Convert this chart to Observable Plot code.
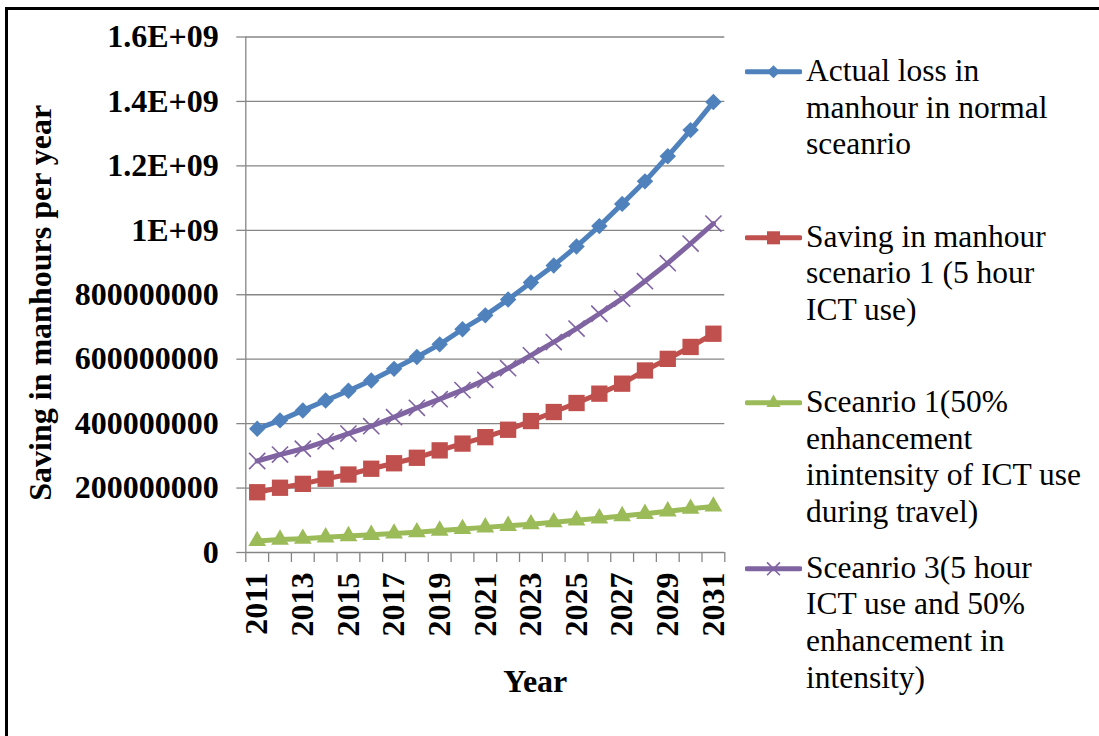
<!DOCTYPE html>
<html>
<head>
<meta charset="utf-8">
<script src="https://cdn.jsdelivr.net/npm/d3@7"></script>
<script src="https://cdn.jsdelivr.net/npm/@observablehq/plot@0.6"></script>
<style>
  html, body { margin: 0; padding: 0; background: #fff; overflow: hidden; }
  body { width: 1099px; height: 736px; position: relative; font-family: "Liberation Serif", "Times New Roman", serif; }
  #frame { position: absolute; left: 5px; top: 7px; width: 2000px; height: 2000px; border: 3px solid #000; box-sizing: border-box; }
  #chart { position: absolute; left: 0; top: 0; }
  #legend { position: absolute; left: 745px; top: 53px; }
  .entry { height: 165.5px; display: flex; align-items: flex-start; }
  .entry svg { flex: none; margin-top: 0; }
  .entry .txt { margin-left: 4px; font-size: 31.5px; line-height: 36.7px; white-space: nowrap; color: #000; }
</style>
</head>
<body>
<div id="frame"></div>
<div id="chart"></div>
<div id="legend"></div>
<script>
// ---- data ----
const years = [2011, 2012, 2013, 2014, 2015, 2016, 2017, 2018, 2019, 2020, 2021,
               2022, 2023, 2024, 2025, 2026, 2027, 2028, 2029, 2030, 2031];
const actualLoss = [384e6, 410e6, 441e6, 472e6, 502e6, 534e6, 570e6, 607e6, 646e6, 693e6, 736e6,
                    785e6, 838e6, 891e6, 950e6, 1013e6, 1082e6, 1152e6, 1230e6, 1311e6, 1398e6];
const saving5h = [187e6, 201e6, 213e6, 229e6, 242e6, 260e6, 277e6, 294e6, 317e6, 338e6, 358e6,
                  381e6, 408e6, 436e6, 464e6, 493e6, 524e6, 565e6, 601e6, 638e6, 679e6];
const saving50 = [36e6, 40e6, 43e6, 47e6, 51e6, 55e6, 59e6, 63e6, 68e6, 73e6, 78e6,
                  83e6, 88e6, 94e6, 100e6, 106e6, 113e6, 120e6, 128e6, 136e6, 143e6];
const saving3 = [284e6, 304e6, 322e6, 345e6, 369e6, 392e6, 420e6, 449e6, 476e6, 504e6, 536e6,
                 572e6, 612e6, 653e6, 695e6, 741e6, 788e6, 842e6, 898e6, 959e6, 1021e6];

const seriesNames = [
  "Actual loss in manhour in normal sceanrio",
  "Saving in manhour scenario 1 (5 hour ICT use)",
  "Sceanrio 1(50% enhancement inintensity of ICT use during travel)",
  "Sceanrio 3(5 hour ICT use and 50% enhancement in intensity)"
];
const legendLines = [
  ["Actual loss in", "manhour in normal", "sceanrio"],
  ["Saving in manhour", "scenario 1 (5 hour", "ICT use)"],
  ["Sceanrio 1(50%", "enhancement", "inintensity of ICT use", "during travel)"],
  ["Sceanrio 3(5 hour", "ICT use and 50%", "enhancement in", "intensity)"]
];
const yTicks = [0, 2e8, 4e8, 6e8, 8e8, 1e9, 1.2e9, 1.4e9, 1.6e9];
const yTickLabels = ["0", "200000000", "400000000", "600000000", "800000000", "1E+09", "1.2E+09", "1.4E+09", "1.6E+09"];
const xLabelYears = ["2011", "2013", "2015", "2017", "2019", "2021", "2023", "2025", "2027", "2029", "2031"];
const xBoundaries = [2010.5, 2011.5, 2012.5, 2013.5, 2014.5, 2015.5, 2016.5, 2017.5, 2018.5, 2019.5, 2020.5,
                     2021.5, 2022.5, 2023.5, 2024.5, 2025.5, 2026.5, 2027.5, 2028.5, 2029.5, 2030.5, 2031.5];

const colors = ["#4F81BD", "#C0504D", "#9BBB59", "#8064A2"];
const symbols = ["diamond2", "square", "triangle", "times"];
const radii = [7.4, 9.2, 6.6, 7.4];
const valuesList = [actualLoss, saving5h, saving50, saving3];

const rows = [];
valuesList.forEach((vals, s) => vals.forEach((v, i) => rows.push({series: seriesNames[s], s, year: years[i], value: v})));

const gridColor = "#868686";
const marks = [
  Plot.gridY(yTicks, {stroke: gridColor, strokeOpacity: 1, strokeWidth: 1.3}),
  Plot.ruleX([2010.5], {stroke: gridColor, strokeWidth: 1.3}),
  Plot.axisY({ticks: yTicks, tickSize: 9, tickPadding: 18, label: null,
              tickFormat: d => yTickLabels[yTicks.indexOf(d)],
              stroke: gridColor, strokeWidth: 1.3, fill: "#000",
              fontSize: 32, fontWeight: "bold"}),
  Plot.axisX({ticks: xBoundaries, tickSize: 10, label: null, tickFormat: () => "",
              stroke: gridColor, strokeWidth: 1.3}),
  Plot.text(xLabelYears, {x: d => +d, text: d => d, frameAnchor: "bottom", dy: 20, rotate: -90,
              textAnchor: "end", lineAnchor: "middle",
              fontSize: 32, fontWeight: "bold", fill: "#000"}),
  Plot.text(["Saving in manhours per year"], {frameAnchor: "left", dx: -205, dy: 8, rotate: -90,
              textAnchor: "middle", lineAnchor: "middle",
              fontSize: 32, fontWeight: "bold", fill: "#000"}),
  Plot.text(["Year"], {frameAnchor: "bottom", dx: 50, dy: 129, textAnchor: "middle", lineAnchor: "middle",
              fontSize: 32, fontWeight: "bold", fill: "#000"})
];
valuesList.forEach((vals, s) => {
  const data = rows.filter(r => r.s === s);
  marks.push(Plot.line(data, {x: "year", y: "value", stroke: colors[s], strokeWidth: 5, strokeLinejoin: "round", strokeLinecap: "round"}));
  if (symbols[s] === "times") {
    marks.push(Plot.dot(data, {x: "year", y: "value", symbol: "times", r: radii[s], stroke: colors[s], strokeWidth: 1.6}));
  } else {
    marks.push(Plot.dot(data, {x: "year", y: "value", symbol: symbols[s], r: radii[s], fill: colors[s], stroke: "none"}));
  }
});

const chart = Plot.plot({
  width: 740,
  height: 736,
  marginLeft: 245.3,
  marginRight: 15.7,
  marginTop: 36.5,
  marginBottom: 184,
  style: {fontFamily: "Liberation Serif, Times New Roman, serif", background: "transparent", overflow: "visible", color: "#000"},
  x: {type: "linear", domain: [2010.5, 2031.5]},
  y: {type: "linear", domain: [0, 1.6e9]},
  marks
});
document.getElementById("chart").appendChild(chart);

// ---- legend ----
const legend = d3.select("#legend");
seriesNames.forEach((name, s) => {
  const entry = legend.append("div").attr("class", "entry");
  const sw = entry.append("svg").attr("width", 57).attr("height", 37);
  sw.append("line").attr("x1", 2).attr("x2", 55).attr("y1", 18.8).attr("y2", 18.8)
    .attr("stroke", colors[s]).attr("stroke-width", 5).attr("stroke-linecap", "round");
  const symMap = {diamond2: d3.symbolDiamond2, square: d3.symbolSquare, triangle: d3.symbolTriangle, times: d3.symbolTimes};
  const r = radii[s] * 0.8;
  const path = sw.append("path").attr("transform", "translate(28.5,18.8)")
    .attr("d", d3.symbol(symMap[symbols[s]], Math.PI * r * r)());
  if (symbols[s] === "times") path.attr("fill", "none").attr("stroke", colors[s]).attr("stroke-width", 1.6);
  else path.attr("fill", colors[s]);
  entry.append("div").attr("class", "txt").html(legendLines[s].join("<br>"));
});
</script>
</body>
</html>
